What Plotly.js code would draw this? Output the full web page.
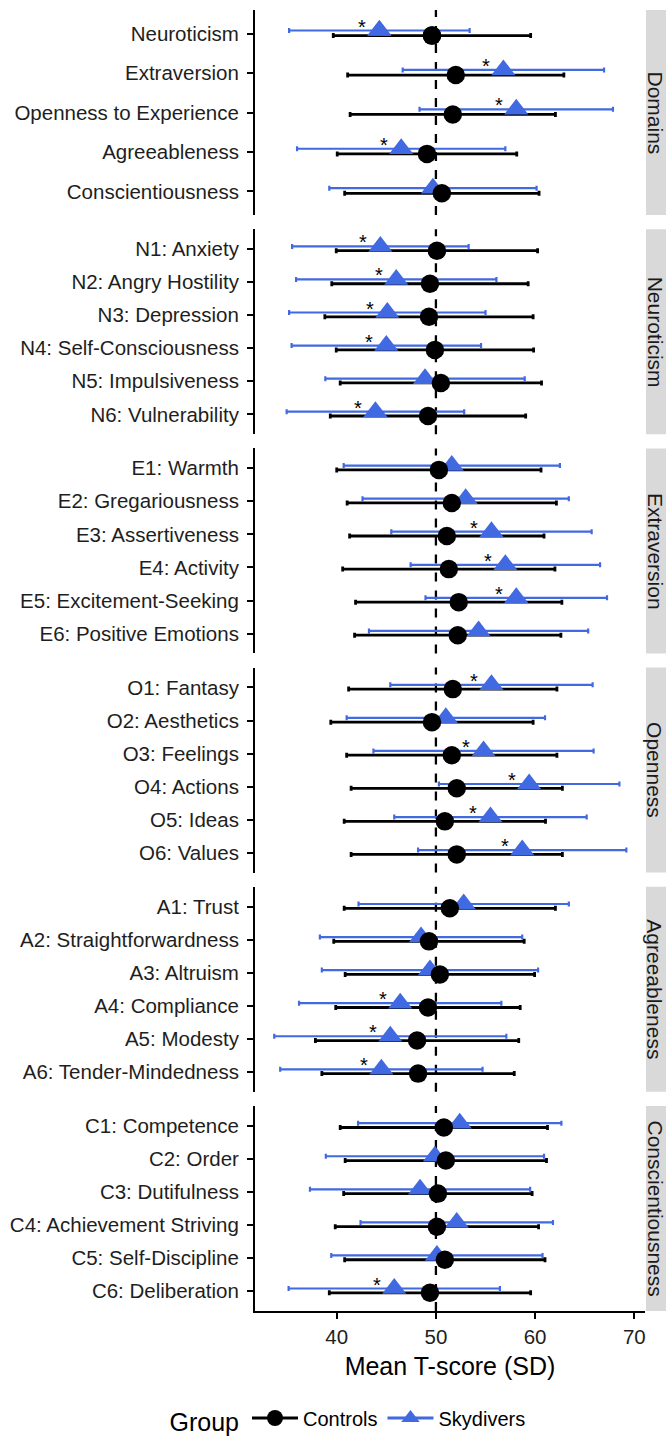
<!DOCTYPE html>
<html>
<head>
<meta charset="utf-8">
<script src="https://cdn.plot.ly/plotly-3.0.1.min.js"></script>
<style>html,body{margin:0;padding:0;background:#fff}#chart{width:666px;height:1439px}</style>
</head>
<body>
<div id="chart"></div>
<script>
// ---------------- data ----------------
const facetNames = ["Domains", "Neuroticism", "Extraversion", "Openness", "Agreeableness", "Conscientiousness"];

const facet = [0,0,0,0,0, 1,1,1,1,1,1, 2,2,2,2,2,2, 3,3,3,3,3,3, 4,4,4,4,4,4, 5,5,5,5,5,5];

const traits = [
  "Neuroticism", "Extraversion", "Openness to Experience", "Agreeableness", "Conscientiousness",
  "N1: Anxiety", "N2: Angry Hostility", "N3: Depression", "N4: Self-Consciousness", "N5: Impulsiveness", "N6: Vulnerability",
  "E1: Warmth", "E2: Gregariousness", "E3: Assertiveness", "E4: Activity", "E5: Excitement-Seeking", "E6: Positive Emotions",
  "O1: Fantasy", "O2: Aesthetics", "O3: Feelings", "O4: Actions", "O5: Ideas", "O6: Values",
  "A1: Trust", "A2: Straightforwardness", "A3: Altruism", "A4: Compliance", "A5: Modesty", "A6: Tender-Mindedness",
  "C1: Competence", "C2: Order", "C3: Dutifulness", "C4: Achievement Striving", "C5: Self-Discipline", "C6: Deliberation"
];

const controlMean = [
  49.6, 52.0, 51.7, 49.1, 50.6,
  50.1, 49.4, 49.3, 49.9, 50.5, 49.2,
  50.3, 51.6, 51.1, 51.3, 52.3, 52.2,
  51.7, 49.6, 51.6, 52.1, 50.9, 52.1,
  51.4, 49.3, 50.4, 49.2, 48.1, 48.2,
  50.8, 51.0, 50.2, 50.1, 50.9, 49.4
];
const controlSD = [
  9.95, 10.9, 10.35, 9.05, 9.8,
  10.15, 9.9, 10.5, 9.95, 10.15, 9.85,
  10.3, 10.55, 9.8, 10.7, 10.4, 10.4,
  10.5, 10.2, 10.6, 10.65, 10.15, 10.65,
  10.65, 9.6, 9.55, 9.3, 10.25, 9.7,
  10.45, 10.15, 9.5, 10.25, 10.1, 10.15
];
const skydiverMean = [
  44.3, 56.8, 58.1, 46.5, 49.7,
  44.4, 46.0, 45.1, 45.0, 48.9, 43.9,
  51.6, 53.0, 55.6, 57.0, 58.1, 54.3,
  55.6, 51.0, 54.8, 59.4, 55.5, 58.7,
  52.8, 48.5, 49.4, 46.4, 45.4, 44.5,
  52.4, 49.9, 48.4, 52.1, 50.1, 45.8
];
const skydiverSD = [
  9.1, 10.15, 9.75, 10.5, 10.45,
  8.9, 10.1, 9.9, 9.55, 10.05, 8.95,
  10.9, 10.4, 10.1, 9.55, 9.15, 11.05,
  10.2, 10.0, 11.1, 9.1, 9.7, 10.5,
  10.6, 10.2, 10.9, 10.2, 11.7, 10.2,
  10.25, 11.0, 11.1, 9.7, 10.65, 10.65
];
const significant = [
  1,1,1,1,0,
  1,1,1,1,0,1,
  0,0,1,1,1,0,
  1,0,1,1,1,1,
  0,0,0,1,1,1,
  0,0,0,0,0,1
];
const groupNames = ["Controls", "Skydivers"];
const xTicks = [40, 50, 60, 70];
const refLine = 50;

// ---------------- layout constants ----------------
const W = 666, H = 1439;
const M = {l: 255, r: 21, t: 10, b: 128, autoexpand: false};
const plotW = W - M.l - M.r;
const plotH = H - M.t - M.b;
const panelH = 205;
const pitch = (plotH - panelH) / 5;
const xRange = [31.76, 71.08];
const BLUE = '#4169E1';
const FONT = '"Liberation Sans", Arial, Helvetica, sans-serif';
const TXT = '#1e1e1e';
const dodgeSky = -0.08, dodgeCtrl = 0.05;

const shapes = [];
const annotations = [];
const layout = {
  width: W, height: H,
  margin: M,
  paper_bgcolor: '#ffffff',
  plot_bgcolor: '#ffffff',
  font: {family: FONT, color: TXT, size: 20},
  showlegend: true,
  legend: {
    orientation: 'h',
    x: (349 - M.l) / plotW, xanchor: 'center',
    y: -(1420 - (H - M.b)) / plotH, yanchor: 'middle',
    title: {text: 'Group', side: 'left', font: {size: 25, color: '#000'}},
    font: {size: 20, color: '#000'},
    itemwidth: 46,
    bgcolor: 'rgba(0,0,0,0)'
  },
  hovermode: false
};

const errTraces = [], ptTraces = [];

facetNames.forEach((name, p) => {
  const idx = facet.map((f, i) => f === p ? i : -1).filter(i => i >= 0);
  const n = idx.length;
  const sfx = p === 0 ? '' : String(p + 1);
  const xa = 'x' + sfx, ya = 'y' + sfx;
  const pos = idx.map((_, k) => k);
  const ySky = pos.map(k => k + dodgeSky);
  const yCtrl = pos.map(k => k + dodgeCtrl);

  errTraces.push({
    type: 'scatter', mode: 'markers', xaxis: xa, yaxis: ya,
    x: idx.map(i => skydiverMean[i]), y: ySky,
    marker: {size: 2, opacity: 0, color: BLUE},
    error_x: {type: 'data', array: idx.map(i => skydiverSD[i]), symmetric: true, color: BLUE, thickness: 2.2, width: 2.5},
    showlegend: false, hoverinfo: 'skip'
  });
  errTraces.push({
    type: 'scatter', mode: 'markers', xaxis: xa, yaxis: ya,
    x: idx.map(i => controlMean[i]), y: yCtrl,
    marker: {size: 2, opacity: 0, color: '#000'},
    error_x: {type: 'data', array: idx.map(i => controlSD[i]), symmetric: true, color: '#000', thickness: 2.8, width: 2.5},
    showlegend: false, hoverinfo: 'skip'
  });
  ptTraces.push({
    type: 'scatter', mode: 'markers', xaxis: xa, yaxis: ya,
    x: idx.map(i => skydiverMean[i]), y: ySky,
    marker: {symbol: 'triangle-up', size: 21, color: BLUE, line: {width: 0}},
    showlegend: false, hoverinfo: 'skip'
  });
  ptTraces.push({
    type: 'scatter', mode: 'markers', xaxis: xa, yaxis: ya,
    x: idx.map(i => controlMean[i]), y: yCtrl,
    marker: {symbol: 'circle', size: 18.5, color: '#000', line: {width: 0}},
    showlegend: false, hoverinfo: 'skip'
  });

  const top = p * pitch, bot = top + panelH;
  const isLast = p === facetNames.length - 1;

  layout['xaxis' + sfx] = {
    domain: [0, 1], anchor: ya, range: xRange, fixedrange: true,
    showgrid: false, zeroline: false,
    showline: isLast, linecolor: '#000', linewidth: 2,
    ticks: isLast ? 'outside' : '', ticklen: 6, tickwidth: 2, tickcolor: '#000',
    tickvals: xTicks, ticktext: xTicks.map(String),
    showticklabels: isLast,
    tickfont: {size: 20.5, color: TXT},
    ticklabelstandoff: 0,
    automargin: false,
    title: isLast ? {text: 'Mean T-score (SD)', font: {size: 25, color: '#000'}, standoff: 11} : {text: ''}
  };
  layout['yaxis' + sfx] = {
    domain: [1 - bot / plotH, 1 - top / plotH], anchor: xa,
    range: [n - 1 + 0.6, -0.6], fixedrange: true,
    showgrid: false, zeroline: false,
    showline: true, linecolor: '#000', linewidth: 2,
    ticks: 'outside', ticklen: 6, tickwidth: 2, tickcolor: '#000',
    tickvals: pos, ticktext: idx.map(i => traits[i]),
    tickfont: {size: 20.5, color: TXT},
    ticklabelstandoff: 4,
    automargin: false
  };

  // dashed reference line
  shapes.push({
    type: 'line', layer: 'below', xref: xa, yref: ya + ' domain',
    x0: refLine, x1: refLine, y0: 0, y1: 1,
    line: {color: '#000', width: 2.3, dash: 'dash'}
  });
  // strip
  shapes.push({
    type: 'rect', xref: 'paper', yref: ya + ' domain',
    x0: (646 - M.l) / plotW, x1: (668 - M.l) / plotW, y0: 0, y1: 1,
    fillcolor: '#d9d9d9', line: {width: 0}
  });
  annotations.push({
    xref: 'paper', yref: ya + ' domain', x: (655 - M.l) / plotW, y: 0.5,
    text: name, textangle: 90, showarrow: false, borderpad: 0,
    font: {size: 21, color: '#1a1a1a'}, xanchor: 'center', yanchor: 'middle'
  });
  // significance stars
  idx.forEach((i, k) => {
    if (significant[i]) {
      annotations.push({
        xref: xa, yref: ya, x: skydiverMean[i], y: k + dodgeSky,
        text: '*', showarrow: false, xshift: -17.5, yshift: 4,
        font: {size: 20, color: '#000'}, xanchor: 'center', yanchor: 'middle'
      });
    }
  });
});

// legend keys (line + marker), placed on the first data points
const legendTraces = [
  {type: 'scatter', mode: 'lines+markers', name: groupNames[0], xaxis: 'x', yaxis: 'y',
   x: [controlMean[0]], y: [0 + dodgeCtrl],
   marker: {symbol: 'circle', size: 18.5, color: '#000'}, line: {color: '#000', width: 2.8},
   showlegend: true, hoverinfo: 'skip'},
  {type: 'scatter', mode: 'lines+markers', name: groupNames[1], xaxis: 'x', yaxis: 'y',
   x: [skydiverMean[0]], y: [0 + dodgeSky],
   marker: {symbol: 'triangle-up', size: 21, color: BLUE}, line: {color: BLUE, width: 2.8},
   showlegend: true, hoverinfo: 'skip'}
];

layout.shapes = shapes;
layout.annotations = annotations;

Plotly.newPlot('chart', errTraces.concat(ptTraces, legendTraces), layout, {displayModeBar: false, staticPlot: true});
</script>
</body>
</html>
